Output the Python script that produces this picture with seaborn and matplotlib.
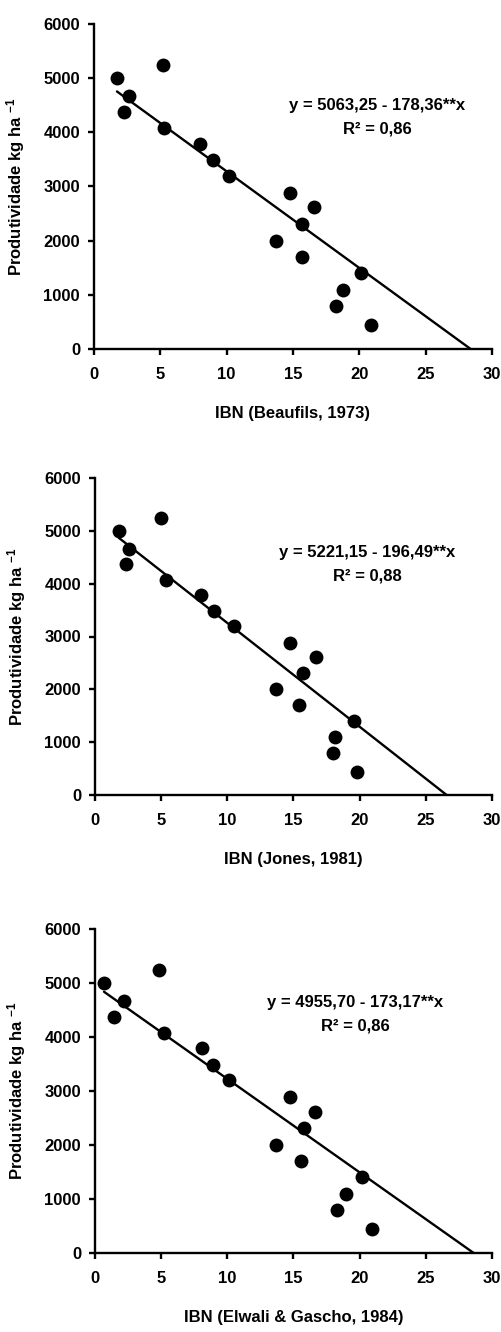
import numpy as np
import pandas as pd
import seaborn as sns
import matplotlib
matplotlib.use('Agg')
import matplotlib.pyplot as plt

# produtividade (kg/ha), same plots for the three indices
yield_kg = [5000, 4370, 4665, 5250, 4075, 3790, 3485, 3200, 2000, 2880, 2310, 1705, 2615, 800, 1090, 1410, 440]

ibn_beaufils = [1.73, 2.24, 2.61, 5.20, 5.25, 8.00, 8.97, 10.2, 13.74, 14.75, 15.70, 15.65, 16.60, 18.24, 18.77, 20.10, 20.85]
ibn_jones = [1.81, 2.34, 2.57, 4.98, 5.34, 8.00, 8.98, 10.5, 13.67, 14.77, 15.73, 15.38, 16.69, 18.02, 18.17, 19.58, 19.80]
ibn_elwali = [0.68, 1.43, 2.19, 4.85, 5.18, 8.07, 8.93, 10.14, 13.66, 14.75, 15.80, 15.55, 16.66, 18.27, 19.00, 20.15, 20.90]

intercepts = [5063.25, 5221.15, 4955.70]
slopes = [-178.36, -196.49, -173.17]
eq_labels = ['y = 5063,25 - 178,36**x', 'y = 5221,15 - 196,49**x', 'y = 4955,70 - 173,17**x']
r2_labels = ['R² = 0,86', 'R² = 0,88', 'R² = 0,86']
x_labels = ['IBN (Beaufils, 1973)', 'IBN (Jones, 1981)', 'IBN (Elwali & Gascho, 1984)']
x_values = [ibn_beaufils, ibn_jones, ibn_elwali]

sns.set_style('ticks')
plt.rcParams['font.family'] = ['Liberation Sans', 'DejaVu Sans']
plt.rcParams['font.weight'] = 'bold'
plt.rcParams['mathtext.fontset'] = 'custom'
plt.rcParams['mathtext.rm'] = 'Liberation Sans:bold'
plt.rcParams['mathtext.bf'] = 'Liberation Sans:bold'
plt.rcParams['mathtext.it'] = 'Liberation Sans:bold'
plt.rcParams['axes.unicode_minus'] = False
for key in ['text.color', 'axes.labelcolor', 'xtick.color', 'ytick.color', 'axes.edgecolor']:
    plt.rcParams[key] = 'black'

W, H = 502, 1332
fig = plt.figure(figsize=(W / 100, H / 100), dpi=100)

# axes boxes in pixels: left, top, right, bottom
boxes = [(94, 24, 492, 349), (95, 478, 492, 795), (95, 929, 492, 1253)]
eq_pos = [(0.711, 0.748, 0.677), (0.685, 0.764, 0.690), (0.655, 0.773, 0.702)]
fs = 12

for i in range(3):
    l, t, r, b = boxes[i]
    ax = fig.add_axes([l / W, 1 - b / H, (r - l) / W, (b - t) / H])
    df = pd.DataFrame({'ibn': x_values[i], 'prod': yield_kg})
    sns.scatterplot(data=df, x='ibn', y='prod', ax=ax, color='black', s=100,
                    edgecolor='black', linewidth=0, zorder=3)
    x0 = min(x_values[i])
    x1 = -intercepts[i] / slopes[i]
    xs = np.array([x0, x1])
    ax.plot(xs, intercepts[i] + slopes[i] * xs, color='black', lw=1.7, zorder=2)

    ax.set_xlim(0, 30)
    ax.set_ylim(0, 6000)
    ax.set_xticks(range(0, 31, 5))
    ax.set_yticks(range(0, 6001, 1000))
    ax.spines['top'].set_visible(False)
    ax.spines['right'].set_visible(False)
    ax.spines['left'].set_linewidth(1.7)
    ax.spines['bottom'].set_linewidth(1.7)
    ax.tick_params(axis='both', direction='out', length=4, width=1.7, labelsize=fs)
    ax.tick_params(axis='x', pad=9)
    ax.tick_params(axis='y', pad=6)
    for lab in ax.get_xticklabels() + ax.get_yticklabels():
        lab.set_fontweight('bold')

    ax.set_xlabel(x_labels[i], fontsize=fs, fontweight='bold', labelpad=17)
    ax.set_ylabel(r'Produtividade kg ha $^{-1}$', fontsize=fs, fontweight='bold')
    ax.yaxis.set_label_coords(-0.168, 0.5)

    ex, ey, ry = eq_pos[i]
    ax.text(ex, ey, eq_labels[i], transform=ax.transAxes, ha='center', va='center',
            fontsize=fs, fontweight='bold')
    ax.text(ex, ry, r2_labels[i], transform=ax.transAxes, ha='center', va='center',
            fontsize=fs, fontweight='bold')

fig.savefig('out.png', dpi=100, facecolor='white')
